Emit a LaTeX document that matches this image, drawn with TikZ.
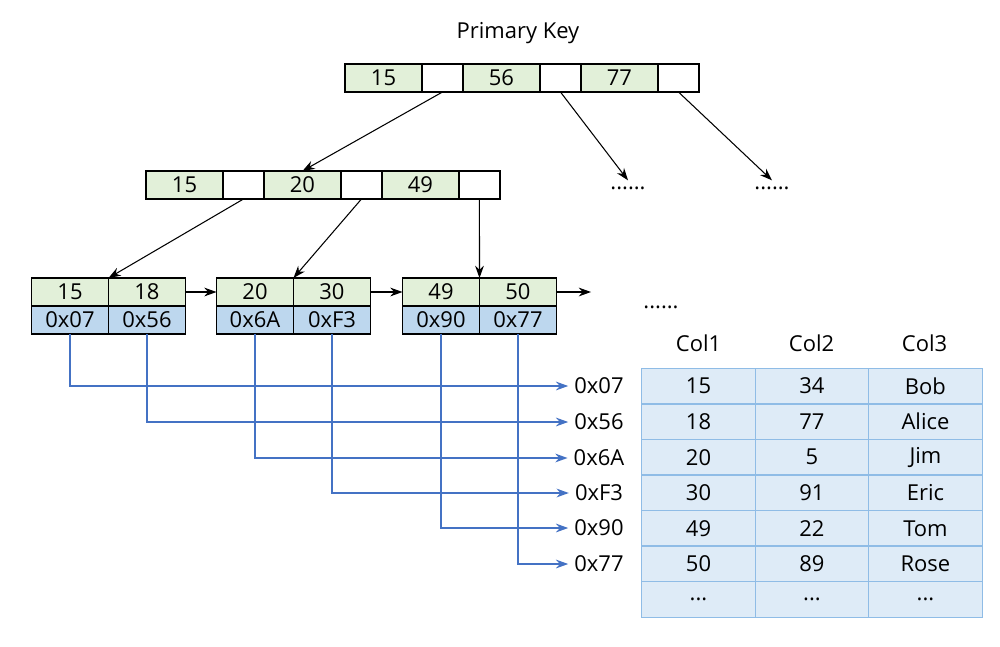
\documentclass[tikz,border=0pt]{standalone}
\usepackage{fontspec}
\setmainfont{Open Sans}
\usepackage{tikz}
\usetikzlibrary{arrows.meta,positioning}

\definecolor{keygreen}{HTML}{E2F0D9}
\definecolor{addrblue}{HTML}{BDD7EE}
\definecolor{rowblue}{HTML}{DEEBF7}
\definecolor{gridblue}{HTML}{8FBCE6}
\definecolor{linkblue}{HTML}{4472C4}

\begin{document}
\begin{tikzpicture}[
    x=0.02cm, y=-0.02cm,
    font=\fontsize{12.5}{15}\selectfont,
    cell/.style={rectangle, draw, thick, outer sep=0pt, inner sep=0pt, minimum height=0.56cm},
    key/.style={cell, fill=keygreen, minimum width=1.54cm},
    ptr/.style={cell, fill=white, minimum width=0.82cm},
    addr/.style={cell, fill=addrblue, minimum width=1.54cm},
    tcell/.style={rectangle, draw=gridblue, fill=rowblue, thick, outer sep=0pt, inner sep=0pt,
        minimum width=2.27cm, minimum height=0.712cm},
    arrow/.style={-{Stealth[length=7pt,width=5pt]}, semithick},
    link/.style={-{Stealth[length=7pt,width=5pt]}, draw=linkblue, thick}
]
    \useasboundingbox (0,0) rectangle (1000,646);

    % Root
    \node (pk) at (518,33) {Primary Key};
    \node[key] (r1) at (383.5,78) {15};
    \node[ptr, right=0pt of r1] (r1p) {};
    \node[key, right=0pt of r1p] (r2) {56};
    \node[ptr, right=0pt of r2] (r2p) {};
    \node[key, right=0pt of r2p] (r3) {77};
    \node[ptr, right=0pt of r3] (r3p) {};

    % Inner node
    \node[key] (n1) at (184.5,185) {15};
    \node[ptr, right=0pt of n1] (n1p) {};
    \node[key, right=0pt of n1p] (n2) {20};
    \node[ptr, right=0pt of n2] (n2p) {};
    \node[key, right=0pt of n2p] (n3) {49};
    \node[ptr, right=0pt of n3] (n3p) {};

    \node (more1) at (628,188) {......};
    \node (more2) at (772,188) {......};

    % Leaves
    \node[key] (a1) at (70,292) {15};
    \node[key, right=0pt of a1] (a2) {18};
    \node[addr, below=0pt of a1] (a1x) {0x07};
    \node[addr, below=0pt of a2] (a2x) {0x56};

    \node[key] (b1) at (255,292) {20};
    \node[key, right=0pt of b1] (b2) {30};
    \node[addr, below=0pt of b1] (b1x) {0x6A};
    \node[addr, below=0pt of b2] (b2x) {0xF3};

    \node[key] (c1) at (441,292) {49};
    \node[key, right=0pt of c1] (c2) {50};
    \node[addr, below=0pt of c1] (c1x) {0x90};
    \node[addr, below=0pt of c2] (c2x) {0x77};

    \coordinate (leafend) at (591,292);
    \node (more3) at (661,307) {......};

    % Row addresses
    \node (p1) at (599,386) {0x07};
    \node (p2) at (599,422) {0x56};
    \node (p3) at (599,458) {0x6A};
    \node (p4) at (599,493) {0xF3};
    \node (p5) at (599,528) {0x90};
    \node (p6) at (599,564) {0x77};

    % Table
    \node (h1) at (698.5,343) {Col1};
    \node (h2) at (811.5,343) {Col2};
    \node (h3) at (924.5,343) {Col3};

    \node[tcell] (t11) at (698.5,386) {15};
    \node[tcell, right=0pt of t11] (t12) {34};
    \node[tcell, right=0pt of t12] (t13) {Bob};
    \node[tcell, below=0pt of t11] (t21) {18};
    \node[tcell, right=0pt of t21] (t22) {77};
    \node[tcell, right=0pt of t22] (t23) {Alice};
    \node[tcell, below=0pt of t21] (t31) {20};
    \node[tcell, right=0pt of t31] (t32) {5};
    \node[tcell, right=0pt of t32] (t33) {Jim};
    \node[tcell, below=0pt of t31] (t41) {30};
    \node[tcell, right=0pt of t41] (t42) {91};
    \node[tcell, right=0pt of t42] (t43) {Eric};
    \node[tcell, below=0pt of t41] (t51) {49};
    \node[tcell, right=0pt of t51] (t52) {22};
    \node[tcell, right=0pt of t52] (t53) {Tom};
    \node[tcell, below=0pt of t51] (t61) {50};
    \node[tcell, right=0pt of t61] (t62) {89};
    \node[tcell, right=0pt of t62] (t63) {Rose};
    \node[tcell, below=0pt of t61] (t71) {...};
    \node[tcell, right=0pt of t71] (t72) {...};
    \node[tcell, right=0pt of t72] (t73) {...};

    % Tree pointers
    \draw[arrow] (r1p.south) -- (n2.north);
    \draw[arrow] (r2p.south) -- (more1.north);
    \draw[arrow] (r3p.south) -- (more2.north);
    \draw[arrow] (n1p.south) -- (a1.north east);
    \draw[arrow] (n2p.south) -- (b1.north east);
    \draw[arrow] (n3p.south) -- (c1.north east);

    % Leaf chain
    \draw[arrow] (a2.east) -- (b1.west);
    \draw[arrow] (b2.east) -- (c1.west);
    \draw[arrow] (c2.east) -- (leafend);

    % Row pointers
    \draw[link] (a1x.south) |- (p1.west);
    \draw[link] (a2x.south) |- (p2.west);
    \draw[link] (b1x.south) |- (p3.west);
    \draw[link] (b2x.south) |- (p4.west);
    \draw[link] (c1x.south) |- (p5.west);
    \draw[link] (c2x.south) |- (p6.west);

\end{tikzpicture}
\end{document}
